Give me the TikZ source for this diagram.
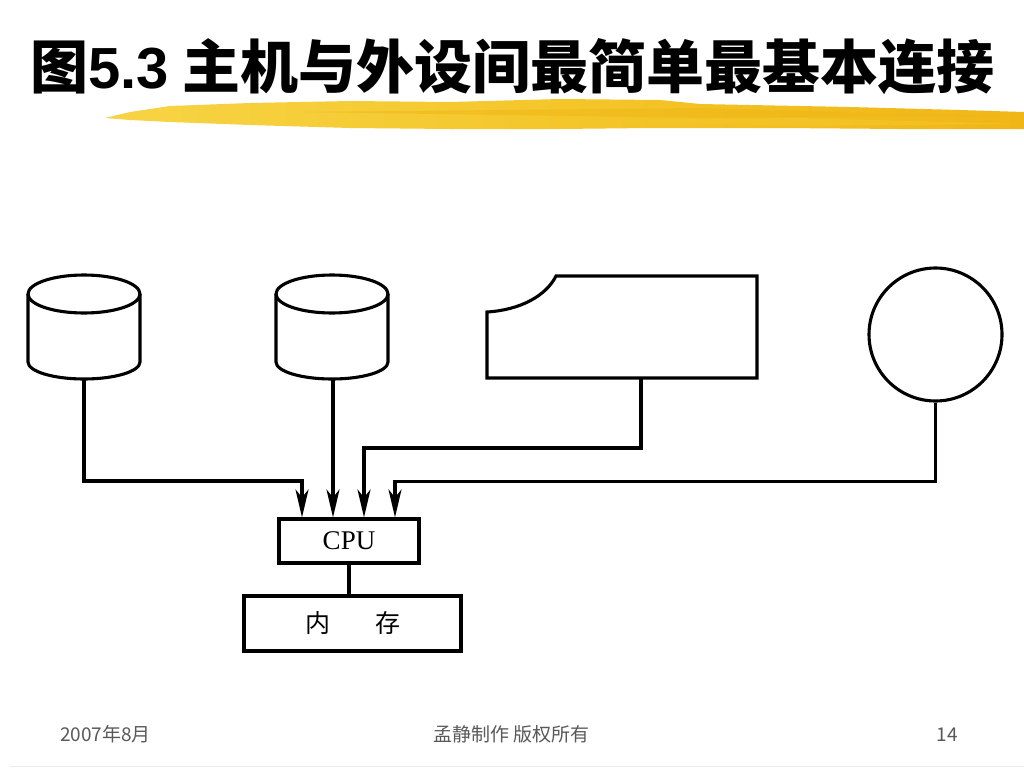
\documentclass[tikz,border=0pt]{standalone}
\usepackage{fontspec}
\setmainfont{Liberation Serif}
\newfontfamily\cjk{Noto Sans CJK SC}
\newfontfamily\arialf{Liberation Sans}
\usetikzlibrary{arrows.meta}
\definecolor{brushA}{HTML}{F7D445}
\definecolor{brushB}{HTML}{F4C62A}
\definecolor{brushC}{HTML}{F0B616}
\begin{document}
\begin{tikzpicture}[x=1pt,y=-1pt,
  ln/.style={line width=3.1pt},
  arr/.style={ln,-{Stealth[length=28pt,width=13pt,inset=8pt]}},
  box/.style={draw,ln,rectangle,inner sep=0pt},
  foot/.style={text=black!65,font=\cjk\fontsize{19}{22}\selectfont,anchor=base,inner sep=0pt}]
\fill[white] (0,0) rectangle (1024,768);
\useasboundingbox (0,0) rectangle (1024,768);

% title
\node[anchor=base west,inner sep=0pt,font=\cjk\bfseries\fontsize{58}{60}\selectfont] (title) at (30,88) {图{\arialf\bfseries 5.3} 主机与外设间最简单最基本连接};

% brush stroke
\shade[left color=brushA,right color=brushC,middle color=brushB]
 (105,118) -- (130,112) -- (170,106) -- (250,103) -- (350,101) -- (450,102) -- (560,99) -- (660,100) -- (700,104) -- (850,107) -- (960,110) -- (1024,112)
 -- (1024,129) -- (900,129) -- (780,128) -- (650,128) -- (560,129) -- (450,129) -- (350,128) -- (250,125) -- (170,122) -- (130,120) -- cycle;
\fill[brushC,opacity=0.5] (300,112) -- (700,108) -- (1000,116) -- (700,118) -- cycle;
\fill[brushB,opacity=0.6] (560,120) -- (800,118) -- (1020,124) -- (800,126) -- cycle;

% cylinders
\draw[ln] (84,294) ellipse[x radius=56,y radius=19];
\draw[ln] (28,294) -- (28,362) arc[start angle=180,end angle=0,x radius=56,y radius=17] -- (140,294);
\coordinate (c1) at (84,379);
\draw[ln] (332,294) ellipse[x radius=56,y radius=19];
\draw[ln] (276,294) -- (276,362) arc[start angle=180,end angle=0,x radius=56,y radius=17] -- (388,294);
\coordinate (c2) at (333,379);

% card
\draw[ln] (487,312) .. controls (520,310) and (546,296) .. (556,276) -- (757,276) -- (757,378) -- (487,378) -- cycle;
\coordinate (c3) at (641,378);

% disk
\node[draw,ln,circle,minimum size=133pt,inner sep=0pt] (disk) at (935.5,334.5) {};

% CPU and memory
\node[box,minimum width=140pt,minimum height=44pt,font=\fontsize{27}{30}\selectfont] (cpu) at (349,541) {CPU};
\node[box,minimum width=217pt,minimum height=55pt] (mem) at (352.5,623.5) {};
\node[font=\cjk\fontsize{25}{28}\selectfont,inner sep=0pt] (memtext) at (mem.center) {内\hspace{45pt}存};

% connectors
\draw[arr] (c1) -- ++(0,102) -| ([xshift=-47pt]cpu.north);
\draw[arr] (c2) -- (c2 |- cpu.north);
\draw[arr] (c3) -- ++(0,70) -| ([xshift=15pt]cpu.north);
\draw[arr] (disk.south) -- ++(0,79) -| ([xshift=46pt]cpu.north);
\draw[ln] (cpu.south) -- (cpu.south |- mem.north);

% footer
\node[foot] (date) at (105.5,741) {2007年8月};
\node[foot] (author) at (511.5,741) {孟静制作 版权所有};
\node[foot] (page) at (947.5,741) {14};
\draw[black!8,line width=1pt] (10,766) -- (1024,766);
\end{tikzpicture}
\end{document}
